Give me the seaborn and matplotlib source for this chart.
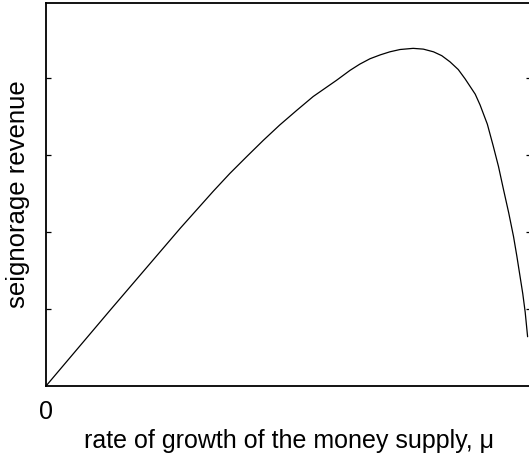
import matplotlib
matplotlib.use("Agg")
import matplotlib.pyplot as plt
import seaborn as sns
import pandas as pd

# Money growth rate (mu, relative units) and seignorage revenue
mu = [0.0, 0.133, 0.277, 0.311, 0.345, 0.379, 0.414, 0.448, 0.482, 0.517,
      0.551, 0.599, 0.627, 0.647, 0.668, 0.689, 0.709, 0.730, 0.757, 0.778,
      0.799, 0.816, 0.833, 0.850, 0.864, 0.885, 0.895, 0.910, 0.922, 0.933,
      0.943, 0.954, 0.964, 0.971, 0.977, 0.983, 0.988, 0.993]
revenue = [0.0, 0.99, 2.05, 2.29, 2.53, 2.76, 2.98, 3.19, 3.39, 3.58,
           3.76, 3.97, 4.10, 4.18, 4.25, 4.30, 4.34, 4.37, 4.385, 4.375,
           4.34, 4.29, 4.21, 4.11, 3.99, 3.79, 3.65, 3.40, 3.12, 2.85,
           2.56, 2.25, 1.94, 1.68, 1.44, 1.20, 0.96, 0.64]

x_ticks = [0.0]
x_tick_labels = ["0"]
y_ticks = [1, 2, 3, 4]

sns.set_theme(style="ticks")
plt.rcParams["font.family"] = ["Liberation Sans", "DejaVu Sans"]
plt.rcParams["text.color"] = "black"
plt.rcParams["axes.labelcolor"] = "black"
plt.rcParams["xtick.color"] = "black"
plt.rcParams["ytick.color"] = "black"

df = pd.DataFrame({"mu": mu, "revenue": revenue})

fig = plt.figure(figsize=(5.29, 4.57), dpi=100)
ax = fig.add_axes([46 / 529, 71 / 457, 485 / 529, 383 / 457])

sns.lineplot(data=df, x="mu", y="revenue", ax=ax, color="black",
             linewidth=0.9, sort=False, estimator=None)

ax.set_xlim(0, 1)
ax.set_ylim(0, 383 / 77)

for side in ["left", "right", "top", "bottom"]:
    ax.spines[side].set_visible(True)
    ax.spines[side].set_linewidth(1.3)
    ax.spines[side].set_color("black")

ax.set_xticks(x_ticks)
ax.set_xticklabels(x_tick_labels, fontsize=18)
ax.tick_params(axis="x", length=0, pad=10, labelcolor="black")

ax.set_yticks(y_ticks)
ax.set_yticklabels([])
ax.tick_params(axis="y", direction="in", length=3.5, width=0.9,
               left=True, right=True, color="black")

ax.set_xlabel("rate of growth of the money supply, μ", fontsize=18,
              labelpad=4, color="black")
ax.set_ylabel("seignorage revenue", fontsize=18.5, labelpad=8, color="black")

fig.savefig("out.png", dpi=100)
